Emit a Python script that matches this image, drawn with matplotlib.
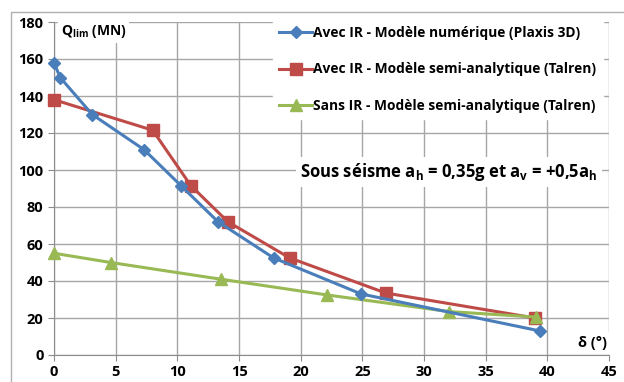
import matplotlib.pyplot as plt
from matplotlib.lines import Line2D

plt.rcParams["font.family"] = ["Open Sans", "DejaVu Sans"]
plt.rcParams["mathtext.fontset"] = "custom"
plt.rcParams["mathtext.bf"] = "Open Sans:bold"
plt.rcParams["mathtext.rm"] = "Open Sans"

# Avec IR - numérique (Plaxis 3D)
delta_num = [0, 0.5, 3.1, 7.3, 10.3, 13.3, 17.8, 24.9, 39.4]
q_num = [158, 150, 130, 111, 91.5, 72, 52.5, 33, 13]

# Avec IR - semi-analytique (Talren)
delta_ir = [0, 8.0, 11.1, 14.1, 19.1, 26.9, 39.0]
q_ir = [138, 121.5, 91.5, 72, 52.5, 33.5, 20]

# Sans IR - semi-analytique (Talren)
delta_sans = [0, 4.6, 13.5, 22.1, 32.0, 39.1]
q_sans = [55, 50, 41, 32.5, 23.5, 20.5]

x_ticks = list(range(0, 50, 5))
y_ticks = list(range(0, 200, 20))

fig = plt.figure(figsize=(6.24, 3.82), dpi=100)
# chart area border (only left and top visible in the crop)
fig.lines.append(Line2D([11 / 624, 11 / 624, 1.0], [0, 1 - 12 / 382, 1 - 12 / 382],
                        transform=fig.transFigure, color="#b0b0b0", lw=1.0))
ax = fig.add_axes([54 / 624, 27 / 382, 555 / 624, 333 / 382])

ax.plot(delta_num, q_num, color="#4a7ebb", lw=2.2, marker="D", ms=6,
        label="Avec IR - Modèle numérique (Plaxis 3D)", zorder=4, clip_on=False)
ax.plot(delta_ir, q_ir, color="#be4b48", lw=2.2, marker="s", ms=8,
        label="Avec IR - Modèle semi-analytique (Talren)", zorder=3, clip_on=False)
ax.plot(delta_sans, q_sans, color="#98b954", lw=2.2, marker="^", ms=8,
        label="Sans IR - Modèle semi-analytique (Talren)", zorder=3, clip_on=False)

ax.set_xlim(0, 45)
ax.set_ylim(0, 180)
ax.set_xticks(x_ticks)
ax.set_yticks(y_ticks)
ax.grid(True, color="#a6a6a6", lw=1.0)
ax.set_axisbelow(True)
for s in ["top", "right"]:
    ax.spines[s].set_visible(False)
for s in ["left", "bottom"]:
    ax.spines[s].set_color("#8c8c8c")
ax.tick_params(direction="out", length=4, color="#8c8c8c", labelsize=10.5)
for lab in ax.get_xticklabels() + ax.get_yticklabels():
    lab.set_fontweight("bold")

leg = fig.legend(loc="upper left", bbox_to_anchor=(266 / 624, 1 - 13 / 382),
                 frameon=True, fancybox=False, edgecolor="white",
                 facecolor="white", framealpha=1, handlelength=2.4,
                 handletextpad=0.1, labelspacing=1.62, borderpad=0.45,
                 prop={"weight": "bold", "size": 9.9})
leg.set_zorder(6)

ax.text(0.55, 175, r"Q$_\mathbf{lim}$ (MN)", fontsize=10, fontweight="bold",
        va="center", ha="left", zorder=6,
        bbox=dict(facecolor="white", edgecolor="none", pad=2))
ax.text(32.0, 99, r"Sous séisme a$_\mathbf{h}$ = 0,35g et a$_\mathbf{v}$ = +0,5a$_\mathbf{h}$",
        fontsize=12, fontweight="bold", ha="center", va="center", zorder=6,
        bbox=dict(facecolor="white", edgecolor="none", pad=3))
ax.text(44.8, 6.5, "δ (°)", fontsize=10.5, fontweight="bold", ha="right",
        va="center", zorder=6,
        bbox=dict(facecolor="white", edgecolor="none", pad=3))

fig.savefig("out.png", dpi=100)
